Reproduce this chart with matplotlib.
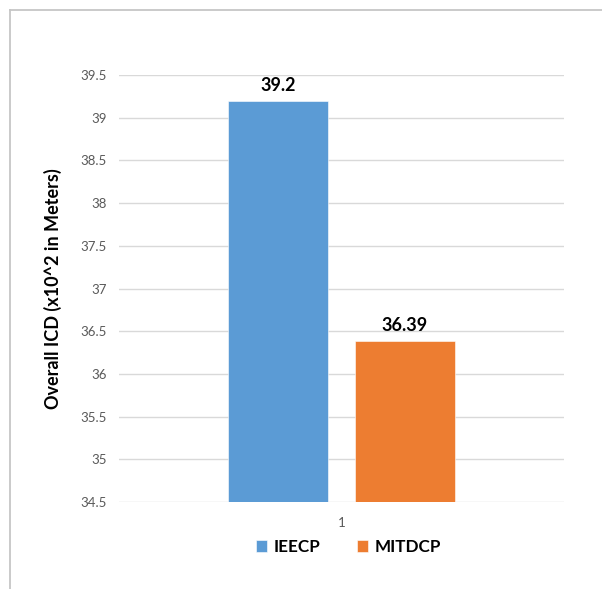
import matplotlib.pyplot as plt
from matplotlib.lines import Line2D

plt.rcParams["font.family"] = ["Lato", "DejaVu Sans"]

series = ["IEECP", "MITDCP"]
values = [39.2, 36.39]
colors = ["#5B9BD5", "#ED7D31"]
category = 1
offsets = [-0.1425, 0.1425]
y_ticks = [34.5, 35, 35.5, 36, 36.5, 37, 37.5, 38, 38.5, 39, 39.5]
y_tick_labels = ["34.5", "35", "35.5", "36", "36.5", "37", "37.5", "38", "38.5", "39", "39.5"]

W, H = 602, 589
fig = plt.figure(figsize=(W / 100, H / 100), dpi=100)
ax = fig.add_axes([119 / W, 87 / H, 445 / W, 427 / H])

handles = []
for name, val, col, off in zip(series, values, colors, offsets):
    b = ax.bar(category + off, val - 34.5, bottom=34.5, width=0.2247,
               color=col, edgecolor="white", linewidth=0.4, label=name, zorder=3)
    handles.append(b)
    ax.text(category + off, val + 0.075, f"{val:g}", ha="center", va="bottom",
            fontsize=13, fontweight="bold", color="black")

ax.set_xlim(0.5, 1.5)
ax.set_ylim(34.5, 39.5)
ax.set_xticks([category])
ax.set_xticklabels(["1"])
ax.set_yticks(y_ticks)
ax.set_yticklabels(y_tick_labels)
ax.tick_params(axis="both", length=0, labelsize=9.5, labelcolor="#595959")
ax.tick_params(axis="y", pad=9)
ax.tick_params(axis="x", pad=11)
ax.grid(axis="y", color="#d9d9d9", linewidth=1, zorder=0)
for s in ax.spines.values():
    s.set_visible(False)

ax.set_ylabel("Overall ICD (x10^2 in Meters)", fontsize=13, fontweight="bold",
              labelpad=13)

fig.legend(handles=handles, labels=series, loc="center",
           bbox_to_anchor=(348.5 / W, 1 - 547 / H), ncol=2, frameon=False,
           handlelength=0.65, handleheight=0.65, handletextpad=0.4,
           columnspacing=2.1, prop={"size": 12.3, "weight": "bold"})

# chart area border (top and left edges)
fig.add_artist(Line2D([10 / W, 1], [1 - 10 / H, 1 - 10 / H],
                      transform=fig.transFigure, color="#c6c6c6", linewidth=1.3))
fig.add_artist(Line2D([10 / W, 10 / W], [0, 1 - 10 / H],
                      transform=fig.transFigure, color="#c6c6c6", linewidth=1.3))

fig.savefig("out.png", dpi=100)
